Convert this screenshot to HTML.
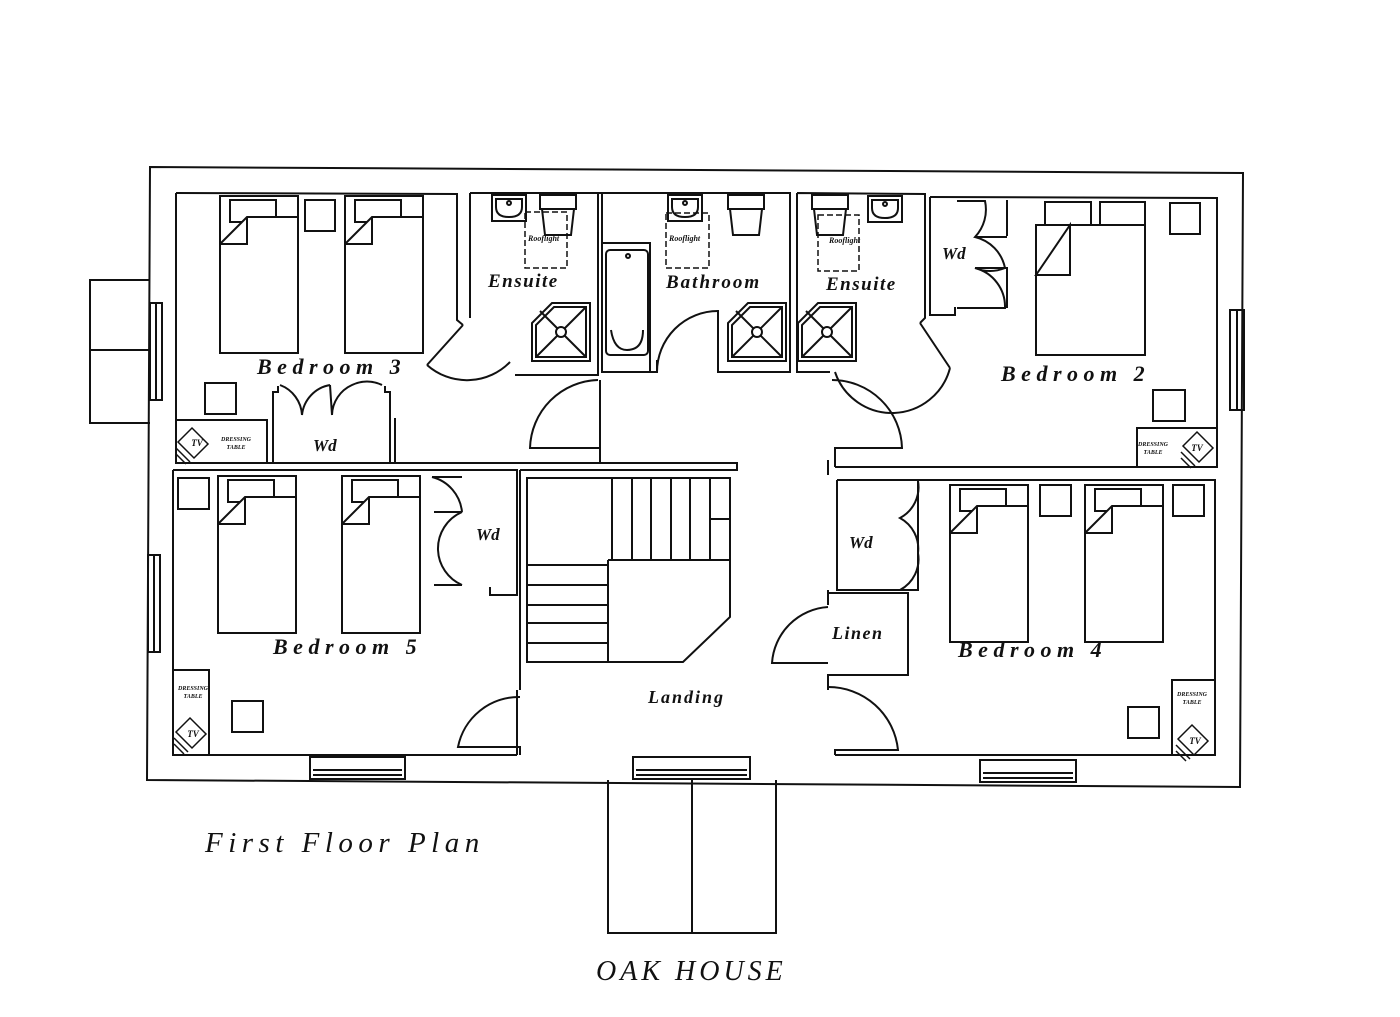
<!DOCTYPE html>
<html><head><meta charset="utf-8"><style>
html,body{margin:0;padding:0;background:#fff;}
svg{display:block}
text{font-family:"Liberation Serif",serif;font-style:italic;font-weight:bold;fill:#111}
</style></head><body>
<svg width="1400" height="1017" viewBox="0 0 1400 1017" xmlns="http://www.w3.org/2000/svg">
<defs>
<g id="bed" fill="none" stroke="#111" stroke-width="2">
<rect x="0" y="0" width="78" height="157"/>
<rect x="10" y="4" width="46" height="22"/>
<path d="M0,48 L27,21 L78,21 M27,21 L27,48 L0,48" fill="#fff"/>
</g>
<g id="shower" fill="none" stroke="#111" stroke-width="2">
<path d="M0,58 L0,20 L20,0 L58,0 L58,58 Z"/>
<path d="M4,54 L4,22 L22,4 L54,4 L54,54 Z"/>
<path d="M4,54 L54,4 M8,8 L54,54"/>
<circle cx="29" cy="29" r="5" fill="#fff"/>
</g>
<g id="basin" fill="none" stroke="#111" stroke-width="2">
<rect x="0" y="0" width="34" height="26"/>
<path d="M4,4 L30,4 L30,12 Q30,22 17,22 Q4,22 4,12 Z"/>
<circle cx="17" cy="8" r="2"/>
</g>
<g id="wc" fill="none" stroke="#111" stroke-width="2">
<rect x="0" y="0" width="36" height="14"/>
<path d="M2,14 L34,14 L31,40 L5,40 Z"/>
</g>
<g id="tv" fill="none" stroke="#111" stroke-width="1.5">
<path d="M0,14 L14,0 L30,16 L16,30 Z"/>
<path d="M-2,20 L12,34 M-2,26 L8,36"/>
</g>
</defs>
<g fill="none" stroke="#111" stroke-width="2">
<path d="M150,167 L1243,173 L1240,787 L147,780 Z"/>
<path d="M150,280 L90,280 L90,423 L150,423 M90,350 L150,350"/>
<path d="M608,780 L608,933 L776,933 L776,780 M692,780 L692,933"/>
<rect x="150" y="303" width="12" height="97"/><path d="M156,303 L156,400"/>
<rect x="148" y="555" width="12" height="97"/><path d="M154,555 L154,652"/>
<rect x="1230" y="310" width="14" height="100"/><path d="M1237,310 L1237,410"/>
<rect x="310" y="757" width="95" height="22"/><path d="M313,770 L402,770 M313,775 L402,775"/>
<rect x="633" y="757" width="117" height="22"/><path d="M636,770 L747,770 M636,775 L747,775"/>
<rect x="980" y="760" width="96" height="22"/><path d="M983,773 L1073,773 M983,778 L1073,778"/>

<path d="M176,193 L457,194 L457,320 L463,325"/>
<path d="M176,193 L176,463 L460,463"/>
<path d="M463,325 L427,365 M427,365 A60,60 0 0 0 510,362"/>
<rect x="176" y="420" width="91" height="43"/>
<path d="M273,463 L273,392 L278,392 L278,386 M390,463 L390,392 L385,392 L385,386"/>
<path d="M280,385 A34,34 0 0 1 302,415 A34,34 0 0 1 330,385 M330,385 L332,415 M332,415 A34,34 0 0 1 352,385 A34,34 0 0 1 382,385"/>
<path d="M395,463 L395,418 M395,463 L600,463 L600,380"/>
<path d="M470,193 L470,318 M470,193 L598,193 L598,375 L515,375"/>
<path d="M598,193 L602,193"/>
<path d="M602,193 L790,193 L790,372 L718,372 L718,310"/>
<path d="M602,193 L602,372 L657,372 L657,360"/>
<path d="M602,243 L650,243 L650,372"/>
<rect x="606" y="250" width="42" height="105" rx="4"/>
<path d="M611,330 Q614,350 627,350 Q643,350 643,330"/>
<circle cx="628" cy="256" r="2"/>
<path d="M657,372 A61,61 0 0 1 718,311"/>
<path d="M797,193 L925,194 L925,318 L920,323 M797,193 L797,372 L830,372"/>
<path d="M920,323 L950,368 M835,372 A60,60 0 0 0 950,368"/>
<path d="M598,380 A70,70 0 0 0 530,448 L600,448 L600,463"/>
<path d="M832,380 A70,70 0 0 1 902,448 L835,448 L835,467"/>
<path d="M835,467 L1217,467 L1217,198 L930,197"/>
<path d="M930,197 L930,315 L955,315 L955,308 L956,308"/>
<path d="M957,201 L985,201 A40,40 0 0 1 975,237 A40,40 0 0 1 1005,268 A40,40 0 0 1 975,268 A40,40 0 0 1 1005,308 L957,308"/>
<path d="M1007,200 L1007,236 M975,237 L1007,237 M975,268 L1007,268 L1007,308"/>
<rect x="1137" y="428" width="80" height="39"/>
<path d="M173,470 L517,470 L517,595 L490,595 L490,587"/>
<path d="M173,470 L173,755 L517,755 M517,690 L517,755"/>
<path d="M432,477 L462,477 M432,477 A40,40 0 0 1 462,512 M434,512 L462,512 A40,40 0 0 0 438,550 A40,40 0 0 0 462,585 M434,585 L462,585"/>
<rect x="173" y="670" width="36" height="85"/>
<path d="M395,463 L737,463 L737,470 L520,470 M520,470 L520,690"/>
<path d="M527,478 L730,478 L730,617 L683,662 L527,662 Z"/>
<path d="M612,478 L612,560 M632,478 L632,560 M651,478 L651,560 M671,478 L671,560 M690,478 L690,560 M710,478 L710,560 M608,560 L730,560 M608,560 L608,662"/>
<path d="M527,565 L608,565 M527,585 L608,585 M527,605 L608,605 M527,623 L608,623 M527,643 L608,643"/>
<path d="M710,519 L730,519"/>
<path d="M520,697 A62,62 0 0 0 458,747 L520,747 L520,755"/>
<path d="M828,687 A70,70 0 0 1 898,750 L835,750 L835,755"/>
<path d="M835,755 L1215,755 L1215,480 L837,480"/>
<path d="M828,460 L828,475 M837,480 L837,590 L918,590 L918,480"/>
<path d="M918,481 A35,35 0 0 1 900,518 A35,35 0 0 1 918,553 A35,35 0 0 1 900,590"/>
<path d="M828,590 L828,605 M828,593 L908,593 L908,675 L828,675 L828,690"/>
<path d="M828,607 A60,60 0 0 0 772,663 L828,663"/>
<rect x="1172" y="680" width="43" height="75"/>
</g>
<use href="#bed" x="220" y="196"/>
<use href="#bed" x="345" y="196"/>
<use href="#bed" x="218" y="476"/>
<use href="#bed" x="342" y="476"/>
<use href="#bed" x="950" y="485"/>
<use href="#bed" x="1085" y="485"/>
<g fill="none" stroke="#111" stroke-width="2">
<rect x="1045" y="202" width="46" height="23"/><rect x="1100" y="202" width="45" height="23"/>
<path d="M1036,225 L1145,225 L1145,355 L1036,355 Z" fill="#fff"/>
<path d="M1036,275 L1070,225 L1070,275 Z"/>
<rect x="305" y="200" width="30" height="31"/>
<rect x="205" y="383" width="31" height="31"/>
<rect x="1170" y="203" width="30" height="31"/>
<rect x="1153" y="390" width="32" height="31"/>
<rect x="178" y="478" width="31" height="31"/>
<rect x="232" y="701" width="31" height="31"/>
<rect x="1040" y="485" width="31" height="31"/>
<rect x="1173" y="485" width="31" height="31"/>
<rect x="1128" y="707" width="31" height="31"/>
</g>
<use href="#shower" x="532" y="303"/>
<use href="#shower" x="728" y="303"/>
<use href="#shower" x="798" y="303"/>
<use href="#basin" x="492" y="195"/>
<use href="#basin" x="668" y="195"/>
<use href="#basin" x="868" y="196"/>
<use href="#wc" x="540" y="195"/>
<use href="#wc" x="728" y="195"/>
<use href="#wc" x="812" y="195"/>
<g fill="none" stroke="#111" stroke-width="1.5" stroke-dasharray="6,3">
<rect x="525" y="212" width="42" height="56"/>
<rect x="666" y="213" width="43" height="55"/>
<rect x="818" y="215" width="41" height="56"/>
</g>
<use href="#tv" x="178" y="428"/>
<use href="#tv" x="1183" y="432"/>
<use href="#tv" x="176" y="718"/>
<use href="#tv" x="1178" y="725"/>
<g style="font-style:normal" text-anchor="middle">
<text x="236" y="441" font-size="6">DRESSING</text><text x="236" y="449" font-size="6">TABLE</text>
<text x="1153" y="446" font-size="6">DRESSING</text><text x="1153" y="454" font-size="6">TABLE</text>
<text x="193" y="690" font-size="6">DRESSING</text><text x="193" y="698" font-size="6">TABLE</text>
<text x="1192" y="696" font-size="6">DRESSING</text><text x="1192" y="704" font-size="6">TABLE</text>
<text x="197" y="446" font-size="9">TV</text><text x="1197" y="451" font-size="9">TV</text>
<text x="193" y="737" font-size="9">TV</text><text x="1195" y="744" font-size="9">TV</text>
</g>
<g font-size="8">
<text x="528" y="241">Rooflight</text><text x="669" y="241">Rooflight</text><text x="829" y="243">Rooflight</text>
</g>
<g>
<text x="257" y="374" font-size="22" letter-spacing="5.5">Bedroom 3</text>
<text x="1001" y="381" font-size="22" letter-spacing="5.5">Bedroom 2</text>
<text x="273" y="654" font-size="22" letter-spacing="5.5">Bedroom 5</text>
<text x="958" y="657" font-size="22" letter-spacing="5.5">Bedroom 4</text>
<text x="488" y="287" font-size="19" letter-spacing="1.5">Ensuite</text>
<text x="666" y="288" font-size="19" letter-spacing="2">Bathroom</text>
<text x="826" y="290" font-size="19" letter-spacing="1.5">Ensuite</text>
<text x="313" y="451" font-size="17">Wd</text>
<text x="476" y="540" font-size="17">Wd</text>
<text x="942" y="259" font-size="17">Wd</text>
<text x="849" y="548" font-size="17">Wd</text>
<text x="832" y="639" font-size="18" letter-spacing="1.5">Linen</text>
<text x="648" y="703" font-size="18" letter-spacing="2">Landing</text>
</g>
<text x="205" y="852" font-size="29" style="font-weight:normal" letter-spacing="5.5">First Floor Plan</text>
<text x="596" y="980" font-size="28" style="font-weight:normal" letter-spacing="4">OAK HOUSE</text>
</svg>
</body></html>
